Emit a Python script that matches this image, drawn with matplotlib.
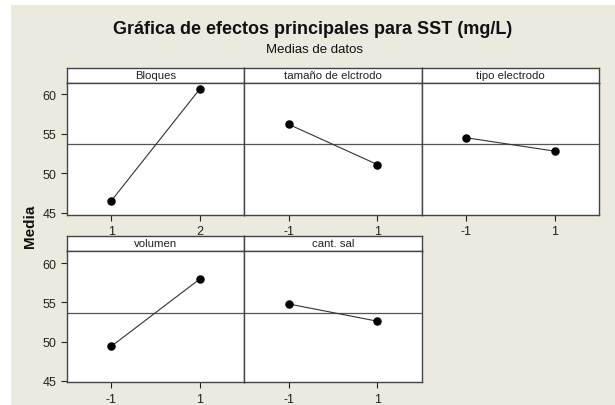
import matplotlib
matplotlib.use("Agg")
import matplotlib.pyplot as plt
from matplotlib.patches import Rectangle

# ── Data ─────────────────────────────────────────────────────────────────────
factors = ["Bloques", "tamaño de elctrodo", "tipo electrodo", "volumen", "cant. sal"]
levels = [["1", "2"], ["-1", "1"], ["-1", "1"], ["-1", "1"], ["-1", "1"]]
means = [
    [46.5, 60.7],
    [56.2, 51.1],
    [54.5, 52.8],
    [49.4, 58.0],
    [54.8, 52.6],
]
grand_mean = 53.7
y_ticks = [45, 50, 55, 60]

W, H = 615, 406
BG = "#ECE9DF"

plt.rcParams["font.family"] = ["Liberation Sans", "DejaVu Sans"]

fig = plt.figure(figsize=(W / 100, H / 100), dpi=100)
fig.patch.set_facecolor("white")
# beige canvas (thin white margin on left/top like the Minitab export)
fig.add_artist(Rectangle((11 / W, 0), 1, 1 - 6 / H, transform=fig.transFigure,
                         facecolor=BG, edgecolor="none", zorder=0))

fig.text(313 / W, 1 - 30 / H, "Gráfica de efectos principales para SST (mg/L)",
         ha="center", va="center", fontsize=13, fontweight="bold", color="#111111")
fig.text(315 / W, 1 - 50 / H, "Medias de datos", ha="center", va="center",
         fontsize=9.5, color="#111111")
fig.text(30 / W, 1 - 226 / H, "Media", ha="center", va="center", rotation=90,
         fontsize=11, fontweight="bold", color="#111111")

# panel geometry in pixels
x0, pw = 67, 177.3
rows = [(69, 83.5, 216), (236.7, 251.7, 383.3)]  # header top, data top, data bottom
ylims = [(44.7, 61.5), (44.8, 61.6)]

for i, (name, lv, m) in enumerate(zip(factors, levels, means)):
    r, c = divmod(i, 3)
    htop, dtop, dbot = rows[r]
    left = (x0 + c * pw) / W
    w = pw / W

    # header strip
    hax = fig.add_axes([left, 1 - dtop / H, w, (dtop - htop) / H])
    hax.set_facecolor("white")
    hax.set_xticks([])
    hax.set_yticks([])
    for s in hax.spines.values():
        s.set_color("#444444")
        s.set_linewidth(1.0)
    hax.text(0.5, 0.5, name, ha="center", va="center", fontsize=8.2,
             color="#222222", transform=hax.transAxes)

    ax = fig.add_axes([left, 1 - dbot / H, w, (dbot - dtop) / H])
    ax.set_facecolor("white")
    xs = [0, 1]
    ax.plot(xs, m, color="#333333", linewidth=0.8, zorder=2)
    ax.scatter(xs, m, s=26, color="black", zorder=3)
    ax.axhline(grand_mean, color="#555555", linewidth=0.9, zorder=1)
    ax.set_xlim(-0.5, 1.5)
    ax.set_ylim(*ylims[r])
    ax.set_xticks(xs)
    ax.set_xticklabels(lv)
    ax.tick_params(axis="both", labelsize=9, colors="#222222", length=4, width=0.8,
                   direction="out")
    if c == 0:
        ax.set_yticks(y_ticks)
    else:
        ax.set_yticks([])
    for s in ax.spines.values():
        s.set_color("#444444")
        s.set_linewidth(1.0)

fig.savefig("out.png", dpi=100, facecolor=fig.get_facecolor())
